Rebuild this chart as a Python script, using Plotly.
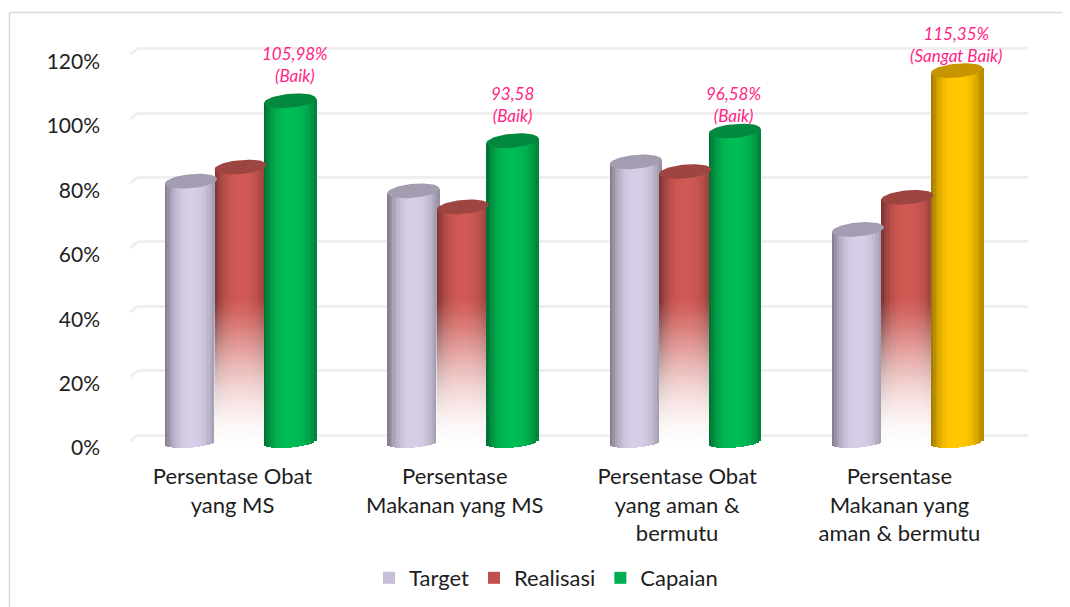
import math
import plotly.graph_objects as go

# ---- data ----
categories = ["Persentase Obat<br>yang MS", "Persentase<br>Makanan yang MS",
              "Persentase Obat<br>yang aman &<br>bermutu", "Persentase<br>Makanan yang<br>aman & bermutu"]
target = [81, 78, 87, 66]
realisasi = [85.4, 73, 84, 76]
capaian = [105.98, 93.58, 96.58, 115.35]
labels = ["105,98%<br>(Baik)", "93,58<br>(Baik)", "96,58%<br>(Baik)", "115,35%<br>(Sangat Baik)"]
label_shift = [13, 13, 3, 3]
label_xshift = [5, 0, -1, 0]
y_ticks = [0, 20, 40, 60, 80, 100, 120]
y_ticktext = ["0%", "20%", "40%", "60%", "80%", "100%", "120%"]

# ---- styles / geometry (page pixels; the page body has an 8 px margin) ----
PAGE = 8
W, H = 1070 - PAGE, 607 - PAGE
L, R, T, B = 138 - PAGE, 1028 - PAGE, 14 - PAGE, 460 - PAGE   # plot box in figure pixels
PX_PER_UNIT = 3.22
BAR_ZERO_PX = 442 - PAGE
GRID_ZERO_PX = 435 - PAGE
GROUP_0_PX, GROUP_STEP = 240.5 - PAGE, 222.3
SERIES_STEP = 49.5 / GROUP_STEP
CYL_W = 52 / GROUP_STEP
ELL_B, ELL_TILT = 5.5 / PX_PER_UNIT, 2.3 / PX_PER_UNIT
CAP_B = 7 / PX_PER_UNIT
STRIPS = 21
FADE_PX = 3 / PX_PER_UNIT          # height of one fade band, whole pixels to avoid seams
FADE_STEPS = 52
FADE_BOTTOM = -4 * FADE_PX

def rgb(c, f=1.0):
    r, g, b = [int(c[i:i + 2], 16) for i in (1, 3, 5)]
    return f"rgb({min(255, round(r * f))},{min(255, round(g * f))},{min(255, round(b * f))})"

def shade(t):
    # brightness across the cylinder, t from -1 (left) to 1 (right)
    if t < 0:
        return 1.02 - 0.44 * abs(t) ** 2.6
    return 1.02 - 0.34 * t ** 2.6

x_pos = [i for i in range(len(categories))]
x_range = [(L - GROUP_0_PX) / GROUP_STEP, (R - GROUP_0_PX) / GROUP_STEP]
y2_range = [(BAR_ZERO_PX - B) / PX_PER_UNIT, (BAR_ZERO_PX - T) / PX_PER_UNIT]
y_range = [(GRID_ZERO_PX - B) / PX_PER_UNIT, (GRID_ZERO_PX - T) / PX_PER_UNIT]

series = [
    ("Target", target, ["#D2C9E2"] * 4, ["#A49CB0"] * 4, -1, ["#C9BEDA"] * 4),
    ("Realisasi", realisasi, ["#CC5752"] * 4, ["#9C4541"] * 4, 0, ["#C0504D"] * 4),
    ("Capaian", capaian, ["#00B853", "#00B853", "#00B853", "#FFC400"],
     ["#03883F", "#03883F", "#03883F", "#C79500"], 1, ["#00B050", "#00B050", "#00B050", "#FFC400"]),
]

fig = go.Figure()

# invisible trace that keeps the grid axis alive
fig.add_trace(go.Scatter(x=x_pos, y=y_ticks[:4], mode="lines", line=dict(width=0),
                         showlegend=False, hoverinfo="skip", xaxis="x", yaxis="y"))

for name, vals, cols, caps, off, legend_col in series:
    # narrow base body, carries the legend swatch
    fig.add_trace(go.Bar(x=x_pos, y=vals, name=name,
                         width=CYL_W * 0.5, offset=off * SERIES_STEP - CYL_W * 0.25,
                         marker=dict(color=legend_col, line=dict(width=0)),
                         xaxis="x", yaxis="y2", showlegend=True, hoverinfo="skip"))
    # shaded vertical strips
    sw = CYL_W / STRIPS
    for s in range(STRIPS):
        t = -1 + (2 * s + 1) / STRIPS
        low = -ELL_B * math.sqrt(max(0, 1 - t * t)) + ELL_TILT * t
        tops = [v + ELL_TILT * t for v in vals]
        fig.add_trace(go.Bar(x=x_pos, y=[u - low for u in tops], base=[low] * len(vals),
                             width=sw * 1.25, offset=off * SERIES_STEP - CYL_W / 2 + s * sw,
                             marker=dict(color=[rgb(c, shade(t)) for c in cols], line=dict(width=0)),
                             xaxis="x", yaxis="y2", showlegend=False, hoverinfo="skip"))
    # white fade over the lower part of Realisasi
    if name == "Realisasi":
        for k in range(FADE_STEPS):
            low = FADE_BOTTOM + k * FADE_PX
            a = 1 - (k + 0.5) / FADE_STEPS
            alpha = math.sin(a * math.pi / 2) ** 1.2
            fig.add_trace(go.Bar(x=x_pos, y=[FADE_PX] * len(vals), base=[low] * len(vals),
                                 width=CYL_W * 1.02, offset=-CYL_W * 0.51,
                                 marker=dict(color=f"rgba(255,255,255,{alpha:.3f})", line=dict(width=0)),
                                 xaxis="x", yaxis="y2", showlegend=False, hoverinfo="skip"))
    # cylinder tops
    for i, v in enumerate(vals):
        cx = x_pos[i] + off * SERIES_STEP
        th = [2 * math.pi * j / 60 for j in range(61)]
        fig.add_trace(go.Scatter(
            x=[cx + CYL_W / 2 * math.cos(a) for a in th],
            y=[v + CAP_B * math.sin(a) + ELL_TILT * math.cos(a) for a in th],
            mode="lines", fill="toself", fillcolor=caps[i], line=dict(width=0),
            showlegend=False, hoverinfo="skip", xaxis="x", yaxis="y2"))

# short slanted ends of the gridlines on the left wall
slant = []
for v in y_ticks:
    slant.append(dict(type="line", xref="paper", yref="y", layer="below",
                      x0=0, x1=-8 / (R - L), y0=v, y1=v - 6 / PX_PER_UNIT,
                      line=dict(color="#EFEFEF", width=3)))

# chart-area edge: only the top and left sides show in the reference
edge_x0 = (1.5 - L) / (R - L)
edge_x1 = (W - L) / (R - L)
edge_y1 = 1 + (T - 4.5) / (B - T)
edge_y0 = 1 - (H - T) / (B - T)
edges = [
    dict(type="line", xref="paper", yref="paper", layer="below", x0=edge_x0, x1=edge_x1,
         y0=edge_y1, y1=edge_y1, line=dict(color="#D9D9D9", width=1.5)),
    dict(type="line", xref="paper", yref="paper", layer="below", x0=edge_x0, x1=edge_x0,
         y0=edge_y0, y1=edge_y1, line=dict(color="#D9D9D9", width=1.5)),
]

annos = [dict(x=x_pos[i] + SERIES_STEP, y=capaian[i], xref="x", yref="y2", text=labels[i],
              showarrow=False, yanchor="bottom", yshift=label_shift[i], xshift=label_xshift[i],
              font=dict(family="Lato", size=17, color="#FF1F85", style="italic"))
         for i in range(4)]

fig.update_layout(
    width=W, height=H, autosize=False,
    margin=dict(l=L, r=W - R, t=T, b=H - B, pad=0),
    paper_bgcolor="white", plot_bgcolor="white",
    barmode="overlay", bargap=0,
    font=dict(family="Lato", size=21, color="#1E1E1E"),
    xaxis=dict(range=x_range, tickmode="array", tickvals=x_pos, ticktext=categories,
               showgrid=False, zeroline=False, showline=False, ticks="",
               ticklabelshift=-8, ticklabelstandoff=1, tickfont=dict(size=22)),
    yaxis=dict(range=y_range, tickmode="array", tickvals=y_ticks, ticktext=y_ticktext,
               showgrid=True, gridcolor="#EFEFEF", gridwidth=3, zeroline=False, showline=False,
               ticks="", ticklabelshift=13, ticklabelstandoff=37, tickfont=dict(size=21)),
    yaxis2=dict(range=y2_range, overlaying="y", side="left", showgrid=False, zeroline=False,
                showticklabels=False, showline=False, ticks=""),
    legend=dict(orientation="h", x=(546 - PAGE - L) / (R - L), xref="paper", xanchor="center",
                y=-(578 - PAGE - B) / (B - T), yanchor="middle", font=dict(size=22),
                itemclick=False, itemdoubleclick=False),
    shapes=slant + edges,
    annotations=annos,
    showlegend=True,
)

fig.write_html("out.html")
